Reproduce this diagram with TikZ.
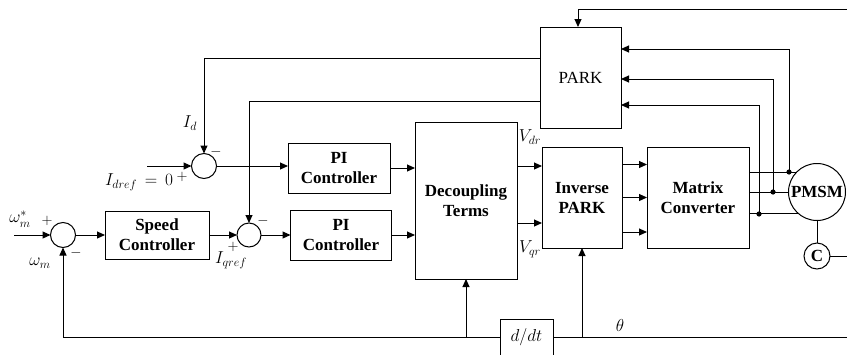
\documentclass[tikz,border=0pt]{standalone}
\usepackage{fontspec}
\setmainfont{Liberation Serif}
\usetikzlibrary{arrows.meta,positioning}

\begin{document}
\begin{tikzpicture}[x=1pt,y=-1pt,line width=1pt,
    blk/.style={draw, rectangle, align=center, font=\bfseries\fontsize{17}{20}\selectfont},
    sumj/.style={draw, circle, minimum size=25pt},
    arr/.style={-{Triangle[length=8pt,width=7pt]}},
    lbl/.style={font=\fontsize{17}{19}\selectfont},
    sgn/.style={font=\fontsize{14}{16}\selectfont}]
            \tikzstyle{every node}+=[inner sep=0pt, outer sep=0pt]
            \useasboundingbox (0,0) rectangle (847,354);
            % blocks
            \node [sumj] (sumw) at (63,235) {};
            \node [blk, minimum width=104pt, minimum height=48pt] (speed) at (157,235) {Speed\\Controller};
            \node [sumj] (sumd) at (204,166) {};
            \node [sumj, minimum size=24pt] (sumq) at (249,235) {};
            \node [blk, minimum width=102pt, minimum height=50pt] (pid) at (339,168) {PI\\Controller};
            \node [blk, minimum width=101pt, minimum height=50pt] (piq) at (341,235) {PI\\Controller};
            \node [blk, minimum width=102pt, minimum height=157pt] (dec) at (466,200.5) {Decoupling\\Terms};
            \node [blk, minimum width=80pt, minimum height=101pt] (ipark) at (582,197.5) {Inverse\\PARK};
            \node [blk, font=\fontsize{17}{20}\selectfont, minimum width=81pt, minimum height=101pt] (park) at (580.5,77.5) {PARK};
            \node [blk, minimum width=102pt, minimum height=101pt] (mc) at (698,197.5) {Matrix\\Converter};
            \node [blk, circle, minimum size=57pt] (pmsm) at (817,192) {PMSM};
            \node [blk, circle, minimum size=26pt] (enc) at (817,256) {C};
            \node [draw, lbl, minimum width=53pt, minimum height=36pt] (ddt) at (526.5,337) {$d/dt$};
            % free ends
            \coordinate (win) at (14,235);
            \coordinate (idin) at (147,166);
            \coordinate (topr) at (847,9);
            \coordinate (bot) at (847,337);
            \coordinate (encr) at (847,256);
            \coordinate (ja) at (789,172);
            \coordinate (jb) at (773,192);
            \coordinate (jc) at (759,214);
            % speed loop
            \draw [arr] (win) -- (sumw.west);
            \draw [arr] (sumw.east) -- (speed.west);
            \draw [arr] (speed.east) -- (sumq.west);
            \draw [arr] (sumq.east) -- (piq.west);
            \draw [arr] (idin) -- (sumd.west);
            \draw [arr] (sumd.east) -- (sumd.east -| pid.west);
            \draw [arr] (pid.east) -- (pid.east -| dec.west);
            \draw [arr] (piq.east) -- (piq.east -| dec.west);
            \draw [arr] ([yshift=34.5pt]dec.east) coordinate (vd) -- (vd -| ipark.west);
            \draw [arr] ([yshift=-22.5pt]dec.east) coordinate (vq) -- (vq -| ipark.west);
            \draw [arr] ([yshift=33pt]ipark.east) -- ([yshift=33pt]mc.west);
            \draw [arr] (ipark.east) -- (mc.west);
            \draw [arr] ([yshift=-34.5pt]ipark.east) -- ([yshift=-34.5pt]mc.west);
            % converter to machine
            \draw (mc.east |- pmsm.136) -- (pmsm.136);
            \draw (mc.east |- pmsm.west) -- (pmsm.west);
            \draw (mc.east |- pmsm.230) -- (pmsm.230);
            \fill (ja) circle (2.6);
            \fill (jb) circle (2.6);
            \fill (jc) circle (2.6);
            \draw [arr] (ja) |- ([yshift=28.5pt]park.east);
            \draw [arr] (jb) |- ([yshift=-1.5pt]park.east);
            \draw [arr] (jc) |- ([yshift=-27.5pt]park.east);
            \draw [arr] (topr) -| ([xshift=-2.5pt]park.north);
            \draw [arr] ([yshift=19.5pt]park.west) -| (sumd.north);
            \draw [arr] ([yshift=-23.5pt]park.west) -| (sumq.north);
            \draw (pmsm.south) -- (enc.north);
            \draw (enc.east) -- (encr);
            % position feedback
            \draw (bot) -- (ddt.east);
            \draw [arr] (bot -| ipark.south) -- (ipark.south);
            \draw [arr] (ddt.west) -- (sumw |- bot) -- (sumw.south);
            \draw [arr] (dec.south |- bot) -- (dec.south);
            % labels
            \node [lbl] (lwr) at (20,219) {$\omega_m^*$};
            \node [lbl] (lwm) at (40,263) {$\omega_m$};
            \node [lbl] (lid) at (190,123) {$I_d$};
            \node [lbl] (lidr) at (139,182) {$I_{dref}\,=\,0$};
            \node [lbl] (liqr) at (231,260) {$I_{qref}$};
            \node [lbl] (lvd) at (530,137) {$V_{dr}$};
            \node [lbl] (lvq) at (530,249) {$V_{qr}$};
            \node [lbl] (lth) at (620,325) {$\theta$};
            \node [sgn] (s1) at (47,221) {$+$};
            \node [sgn] (s2) at (76,253) {$-$};
            \node [sgn] (s3) at (182,177) {$+$};
            \node [sgn] (s4) at (216,152) {$-$};
            \node [sgn] (s5) at (263,221) {$-$};
            \node [sgn] (s6) at (233,247) {$+$};
        \end{tikzpicture}
\end{document}
